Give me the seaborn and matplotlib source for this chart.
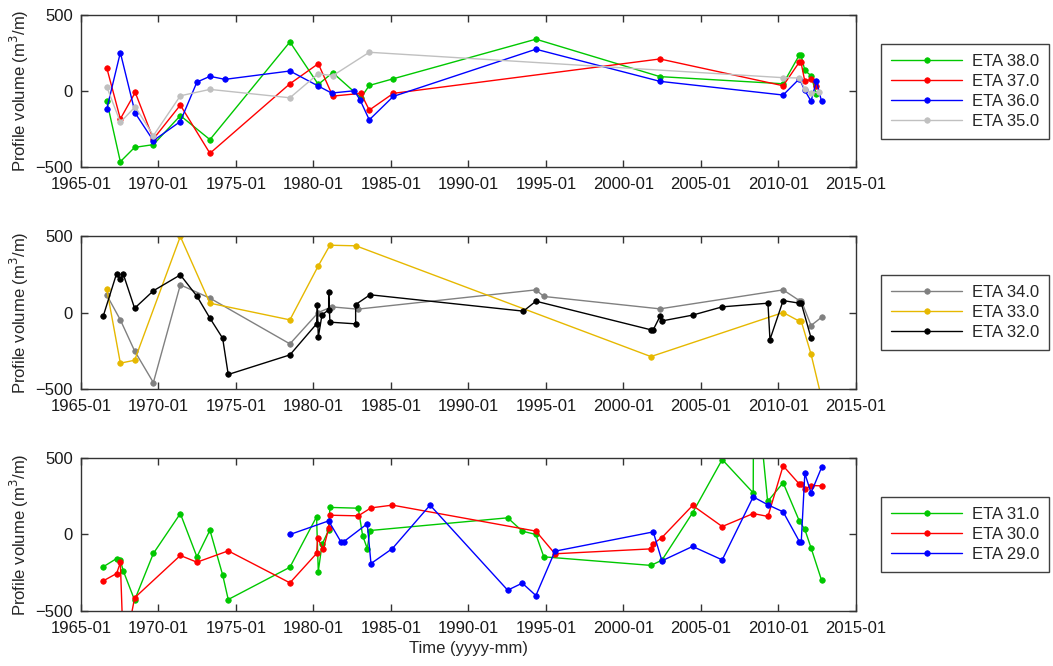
import matplotlib
matplotlib.use("Agg")
import matplotlib.pyplot as plt
import matplotlib.ticker as mticker
import seaborn as sns

# decimal years and profile volumes (m3/m)
eta38_t = [1966.66, 1967.54, 1968.46, 1969.67, 1971.41, 1973.32, 1978.48, 1980.31, 1981.24, 1983.06,
           1983.6, 1985.15, 1994.35, 2002.35, 2010.3, 2011.35, 2011.45, 2011.7, 2012.1, 2012.45]
eta38_v = [-64, -464, -370, -352, -161, -319, 323, 44, 121, -44, 37, 81, 341, 95, 48, 238, 238, 136, 101, -22]

eta37_t = [1966.66, 1967.54, 1968.5, 1969.67, 1971.41, 1973.32, 1978.48, 1980.31, 1981.24, 1983.06,
           1983.6, 1985.15, 2002.35, 2010.3, 2011.35, 2011.45, 2011.7, 2012.1, 2012.45]
eta37_v = [154, -183, -9, -315, -92, -409, 48, 180, -33, -15, -125, -15, 211, 35, 191, 191, 64, 77, 31]

eta36_t = [1966.66, 1967.54, 1968.5, 1969.67, 1971.41, 1972.48, 1973.32, 1974.29, 1978.48, 1980.31,
           1981.17, 1982.63, 1983.0, 1983.6, 1985.15, 1994.35, 2002.35, 2010.3, 2011.35, 2011.7,
           2012.1, 2012.45, 2012.78]
eta36_v = [-119, 253, -145, -326, -200, 59, 97, 77, 132, 33, -13, 2, -57, -189, -35, 275, 64, -26, 81, 4,
           -66, 66, -68]

eta35_t = [1966.66, 1967.54, 1968.5, 1969.67, 1971.41, 1973.32, 1978.48, 1980.31, 1981.24, 1983.6,
           2010.3, 2011.35, 2011.7, 2012.1, 2012.6]
eta35_v = [29, -205, -103, -293, -31, 11, -44, 114, 101, 255, 88, 86, 15, -11, -7]

eta34_t = [1966.66, 1967.54, 1968.46, 1969.67, 1971.41, 1973.32, 1978.48, 1980.31, 1981.17, 1982.85,
           1994.35, 1994.86, 2002.35, 2010.3, 2011.35, 2011.47, 2012.1, 2012.78]
eta34_v = [115, -48, -251, -458, 181, 94, -205, 0, 37, 22, 148, 105, 24, 148, 78, 78, -85, -31]

eta33_t = [1966.66, 1967.54, 1968.46, 1971.41, 1973.32, 1978.48, 1980.31, 1981.06, 1982.74, 2001.77,
           2010.3, 2011.35, 2011.47, 2012.1, 2012.9]
eta33_v = [155, -331, -312, 497, 61, -48, 305, 440, 436, -288, 0, -57, -57, -272, -610]

eta32_t = [1966.44, 1967.3, 1967.54, 1967.73, 1968.46, 1969.67, 1971.41, 1972.48, 1973.32, 1974.14,
           1974.5, 1978.48, 1980.2, 1980.25, 1980.31, 1980.55, 1980.98, 1980.98, 1981.06, 1982.72,
           1982.72, 1983.65, 1993.54, 1994.35, 2001.77, 2001.92, 2002.35, 2002.48, 2004.46, 2006.37,
           2009.32, 2009.45, 2010.3, 2011.35, 2011.47, 2012.1]
eta32_v = [-22, 255, 216, 251, 28, 142, 246, 107, -37, -168, -405, -277, -74, 46, -161, -15, 17, 135, -63,
           -74, 52, 116, 9, 74, -113, -113, -26, -55, -17, 37, 61, -177, 78, 61, 61, -166]

eta31_t = [1966.44, 1967.3, 1967.54, 1967.73, 1968.46, 1969.67, 1971.41, 1972.48, 1973.32, 1974.14,
           1974.5, 1978.48, 1980.2, 1980.31, 1980.55, 1980.98, 1981.06, 1982.89, 1983.17, 1983.47,
           1983.65, 1992.53, 1993.47, 1994.35, 1994.86, 2001.77, 2002.48, 2004.46, 2006.37, 2008.37,
           2008.4, 2009.3, 2010.3, 2011.35, 2011.7, 2012.1, 2012.78]
eta31_v = [-211, -157, -168, -238, -429, -124, 137, -146, 28, -264, -425, -214, 116, -242, -65, 28, 177,
           172, -7, -92, 26, 109, 22, 0, -146, -202, -168, 142, 490, 272, 1150, 216, 338, 87, 33, -87, -299]

eta30_t = [1966.44, 1967.3, 1967.54, 1967.75, 1968.46, 1971.41, 1972.48, 1974.5, 1978.48, 1980.2,
           1980.27, 1980.63, 1980.98, 1981.06, 1982.89, 1983.71, 1985.09, 1994.35, 1995.58, 2001.77,
           2001.88, 2002.48, 2004.46, 2006.37, 2008.37, 2009.32, 2010.3, 2011.35, 2011.47, 2011.7,
           2012.1, 2012.78]
eta30_v = [-303, -255, -183, -790, -414, -137, -181, -107, -316, -124, -24, -98, 41, 126, 122, 174, 192,
           22, -126, -94, -63, -20, 190, 52, 137, 118, 449, 329, 329, 296, 320, 318]

eta29_t = [1978.48, 1980.98, 1981.77, 1981.94, 1983.47, 1983.71, 1985.09, 1987.52, 1992.53, 1993.47,
           1994.35, 1995.58, 2001.92, 2002.48, 2004.46, 2006.37, 2008.37, 2009.32, 2010.3, 2011.35,
           2011.47, 2011.7, 2012.1, 2012.78]
eta29_v = [0, 89, -48, -48, 70, -190, -92, 192, -364, -318, -399, -109, 17, -172, -78, -166, 246, 194,
           148, -46, -46, 399, 272, 438]

panels = [
    [("ETA 38.0", eta38_t, eta38_v, "#00c800"),
     ("ETA 37.0", eta37_t, eta37_v, "#ff0000"),
     ("ETA 36.0", eta36_t, eta36_v, "#0000ff"),
     ("ETA 35.0", eta35_t, eta35_v, "#c0c0c0")],
    [("ETA 34.0", eta34_t, eta34_v, "#808080"),
     ("ETA 33.0", eta33_t, eta33_v, "#e6b800"),
     ("ETA 32.0", eta32_t, eta32_v, "#000000")],
    [("ETA 31.0", eta31_t, eta31_v, "#00c800"),
     ("ETA 30.0", eta30_t, eta30_v, "#ff0000"),
     ("ETA 29.0", eta29_t, eta29_v, "#0000ff")],
]

sns.set_theme(style="ticks")
plt.rcParams["font.family"] = ["Liberation Sans", "DejaVu Sans"]
plt.rcParams["font.size"] = 12
plt.rcParams["axes.edgecolor"] = "#333333"
plt.rcParams["xtick.color"] = "#333333"
plt.rcParams["ytick.color"] = "#333333"
plt.rcParams["xtick.labelcolor"] = "#1a1a1a"
plt.rcParams["ytick.labelcolor"] = "#1a1a1a"

fig = plt.figure(figsize=(10.53, 6.66), dpi=100)
boxes = [(0.0769, 0.749, 0.736, 0.2285),
         (0.0769, 0.4159, 0.736, 0.2297),
         (0.0769, 0.0826, 0.736, 0.2297)]

for box, series in zip(boxes, panels):
    ax = fig.add_axes(box)
    for name, t, v, col in series:
        sns.lineplot(x=t, y=v, ax=ax, color=col, label=name, marker="o", markersize=4,
                     markeredgecolor=col, markeredgewidth=0.5, linewidth=1,
                     estimator=None, sort=False)
    ax.set_xlim(1965, 2015)
    ax.set_ylim(-500, 500)
    ax.set_xticks(range(1965, 2016, 5))
    ax.xaxis.set_major_formatter(mticker.FuncFormatter(lambda x, p: f"{int(round(x))}-01"))
    ax.set_yticks([-500, 0, 500])
    ax.tick_params(direction="in", length=5, width=1, top=True, right=True, labelsize=12)
    ax.tick_params(axis="x", pad=7)
    ax.tick_params(axis="y", pad=6)
    for s in ax.spines.values():
        s.set_linewidth(1)
    ax.set_ylabel("Profile volume (m$^3$/m)", fontsize=12, labelpad=3)
    ax.set_xlabel("")
    leg = ax.legend(loc="center left", bbox_to_anchor=(1.032, 0.5), borderaxespad=0,
                    frameon=True, fancybox=False, framealpha=1, edgecolor="#404040",
                    handlelength=4.3, handletextpad=0.55, borderpad=0.6, labelspacing=0.3,
                    fontsize=12)
    leg.get_frame().set_linewidth(1)

ax.set_xlabel("Time (yyyy-mm)", fontsize=12, labelpad=4)

fig.savefig("out.png", dpi=100)
